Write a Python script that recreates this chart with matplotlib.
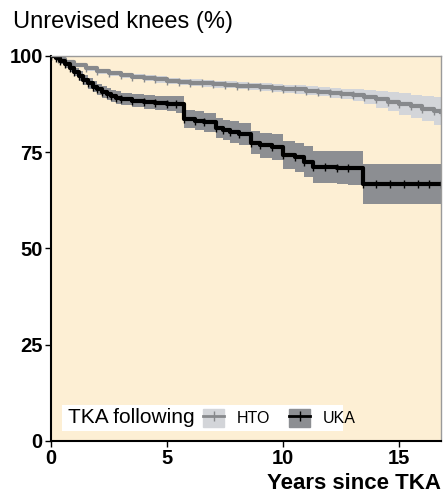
import numpy as np
import matplotlib.pyplot as plt
from matplotlib.patches import Patch
from matplotlib.lines import Line2D

# Kaplan-Meier estimates (years, % unrevised)
hto_t = [0, 0.3, 0.6, 1.0, 1.5, 2.0, 2.5, 3.0, 3.5, 4.0, 4.5, 5.0, 5.5, 6.0, 6.5,
         7.0, 7.5, 8.0, 8.5, 9.0, 9.5, 10.0, 10.5, 11.0, 11.5, 12.0, 12.5, 13.0,
         13.5, 14.0, 14.5, 15.0, 15.5, 16.0, 16.5, 16.8]
hto_s = [100, 99.2, 98.5, 97.6, 96.8, 96.0, 95.5, 95.0, 94.6, 94.2, 93.9, 93.6,
         93.3, 93.1, 92.9, 92.7, 92.5, 92.3, 92.1, 91.9, 91.7, 91.5, 91.3, 91.0,
         90.7, 90.4, 90.1, 89.8, 89.3, 88.7, 88.1, 87.5, 86.9, 86.3, 85.8, 85.5]
hto_ci = [0, 0.3, 0.4, 0.5, 0.6, 0.6, 0.7, 0.7, 0.7, 0.8, 0.8, 0.8, 0.8, 0.9, 0.9,
          0.9, 0.9, 0.9, 1.0, 1.0, 1.0, 1.0, 1.1, 1.1, 1.2, 1.3, 1.4, 1.6, 1.9,
          2.2, 2.5, 2.8, 3.0, 3.3, 3.6, 3.7]

uka_t = [0, 0.2, 0.4, 0.6, 0.8, 1.0, 1.2, 1.4, 1.6, 1.8, 2.0, 2.2, 2.4, 2.6, 2.8,
         3.0, 3.5, 4.0, 4.5, 5.0, 5.4, 5.75, 6.2, 6.6, 7.1, 7.4, 7.7, 8.1, 8.6,
         9.0, 9.5, 10.0, 10.5, 10.9, 11.3, 11.8, 12.3, 12.8, 13.45, 14.0, 14.6,
         15.2, 15.8, 16.3, 16.8]
uka_s = [100, 99.4, 98.6, 97.8, 96.8, 95.8, 94.8, 93.8, 92.9, 92.0, 91.3, 90.6,
         90.1, 89.6, 89.2, 88.8, 88.4, 88.1, 87.8, 87.6, 87.4, 83.6, 83.2, 82.8,
         81.4, 80.8, 80.2, 79.8, 77.5, 76.8, 76.3, 74.2, 73.7, 72.5, 71.2, 71.1,
         71.0, 71.0, 66.8, 66.8, 66.8, 66.8, 66.8, 66.8, 66.8]
uka_ci = [0, 0.4, 0.7, 0.9, 1.0, 1.1, 1.2, 1.3, 1.35, 1.4, 1.45, 1.5, 1.55, 1.6,
          1.6, 1.6, 1.7, 1.8, 1.9, 2.0, 2.1, 2.3, 2.4, 2.5, 2.6, 2.7, 2.8, 2.9,
          3.0, 3.2, 3.4, 3.6, 3.8, 4.0, 4.1, 4.2, 4.3, 4.4, 5.2, 5.2, 5.2, 5.2,
          5.2, 5.2, 5.2]

plt.rcParams['font.family'] = ['Liberation Sans', 'DejaVu Sans']

fig = plt.figure(figsize=(4.43, 4.95), dpi=100)
ax = fig.add_axes([0.1151, 0.1091, 0.8804, 0.7778])
ax.set_facecolor('#fdefd4')

hto_col, hto_band = '#87898c', '#d3d5d9'
uka_col, uka_band = '#000000', '#8c8e92'

for t, s, ci, lc, bc in [(hto_t, hto_s, hto_ci, hto_col, hto_band),
                         (uka_t, uka_s, uka_ci, uka_col, uka_band)]:
    t = np.array(t)
    s = np.array(s)
    ci = np.array(ci)
    ax.fill_between(t, s - ci, np.minimum(s + ci, 100), step='post',
                    color=bc, lw=0)
    ax.plot(t, s, drawstyle='steps-post', color=lc, lw=3,
            marker='|', ms=5.5, mew=1)

ax.set_xlim(0, 16.8)
ax.set_ylim(0, 100)
ax.set_xticks([0, 5, 10, 15])
ax.set_yticks([0, 25, 50, 75, 100])
ax.tick_params(direction='out', length=4, width=1, labelsize=14.5, pad=2)
for lab in ax.get_xticklabels() + ax.get_yticklabels():
    lab.set_fontweight('bold')
for side in ['left', 'bottom']:
    ax.spines[side].set_linewidth(1.5)
for side in ['top', 'right']:
    ax.spines[side].set_color('#9a9a9a')
    ax.spines[side].set_linewidth(1)

fig.text(0.029, 0.955, 'Unrevised knees (%)', fontsize=17, va='center',
         ha='left')
fig.text(0.9955, 0.024, 'Years since TKA', fontsize=16, fontweight='bold',
         va='center', ha='right')

# legend: white box with lead-in text and two handles
ax.add_patch(plt.Rectangle((0.028, 0.026), 0.72, 0.068, transform=ax.transAxes,
                           facecolor='white', edgecolor='none', zorder=4))
ax.text(0.043, 0.06, 'TKA following', transform=ax.transAxes, fontsize=15,
        va='center', ha='left', zorder=5)
handles = [(Patch(color=hto_band), Line2D([], [], color=hto_col, lw=2, marker='|', ms=7)),
           (Patch(color=uka_band), Line2D([], [], color=uka_col, lw=2, marker='|', ms=7))]
leg = ax.legend(handles, ['HTO', 'UKA'], ncol=2, frameon=False, fontsize=11.5,
                loc='center left', bbox_to_anchor=(0.37, 0.06),
                handlelength=1.3, handleheight=1.3, handletextpad=0.8,
                columnspacing=1.2, borderpad=0)
leg.set_zorder(6)

fig.savefig('out.png', dpi=100)
